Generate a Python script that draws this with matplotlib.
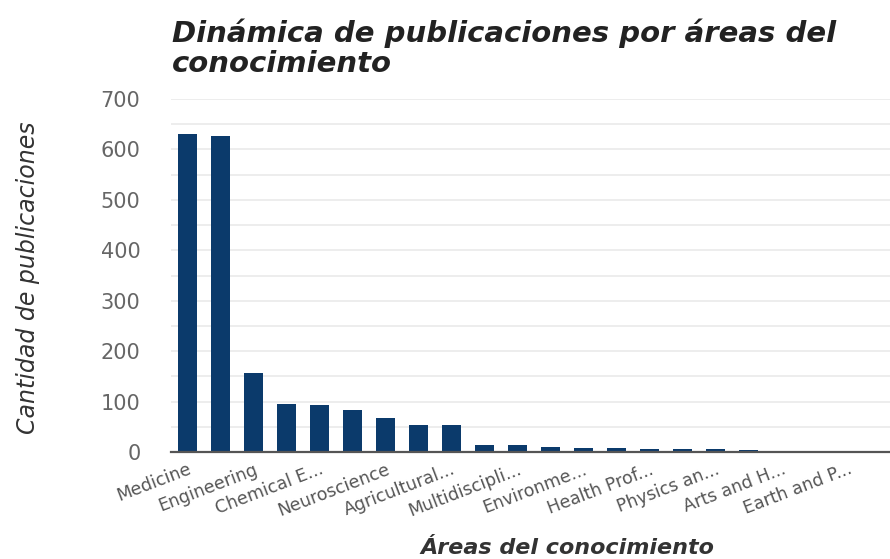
import matplotlib
matplotlib.use("Agg")
import matplotlib.pyplot as plt
from matplotlib.ticker import MultipleLocator

categories = ["Medicine", "Computer Sc...", "Engineering", "Biochemistr...",
              "Chemical E...", "Materials S...", "Neuroscience", "Pharmacolo...",
              "Agricultural...", "Social Scien...", "Multidiscipli...", "Chemistry",
              "Environme...", "Immunolog...", "Health Prof...", "Nursing",
              "Physics an...", "Psychology", "Arts and H...", "Mathemati...",
              "Earth and P...", "Energy"]
values = [630, 627, 156, 96, 94, 84, 68, 53, 53, 13, 13, 9, 7, 7, 6, 6, 5, 3, 2, 1, 1, 1]
yticks = [0, 100, 200, 300, 400, 500, 600, 700]

title = "Dinámica de publicaciones por áreas del\nconocimiento"
xlabel = "Áreas del conocimiento"
ylabel = "Cantidad de publicaciones"

bar_color = "#0b3a6b"

fig = plt.figure(figsize=(8.9, 5.59), dpi=100)
ax = fig.add_axes([171 / 890, 107 / 559, 726 / 890, 353 / 559])

x = list(range(len(categories)))
ax.bar(x, values, width=0.58, color=bar_color, zorder=3)

ax.set_xlim(-0.5, len(categories) - 0.5)
ax.set_ylim(0, 700)
ax.set_yticks(yticks)
ax.yaxis.set_minor_locator(MultipleLocator(50))
ax.grid(axis="y", which="both", color="#e8e8e8", linewidth=1.1, zorder=0)
ax.set_axisbelow(True)

for s in ["top", "right", "left"]:
    ax.spines[s].set_visible(False)
ax.spines["bottom"].set_color("#555555")
ax.spines["bottom"].set_linewidth(1.6)
ax.spines["bottom"].set_zorder(4)

ax.tick_params(axis="y", which="both", length=0, pad=22, labelsize=15, labelcolor="#666666")
ax.tick_params(axis="x", length=0, pad=6)

shown = x[::2]
ax.set_xticks(shown)
ax.set_xticklabels([categories[i] for i in shown], rotation=21, ha="right",
                   rotation_mode="anchor", fontsize=12.5, color="#555555")

fig.text(172 / 890, 1 - 19 / 559, title, ha="left", va="top", fontsize=21,
         fontweight="bold", fontstyle="italic", color="#222222", linespacing=1.05)
fig.text(567 / 890, 1 - 548 / 559, xlabel, ha="center", va="center", fontsize=16,
         fontweight="bold", fontstyle="italic", color="#333333")
fig.text(28 / 890, 1 - 278 / 559, ylabel, ha="center", va="center", rotation=90,
         fontsize=17, fontstyle="italic", color="#333333")

fig.savefig("out.png", dpi=100)
